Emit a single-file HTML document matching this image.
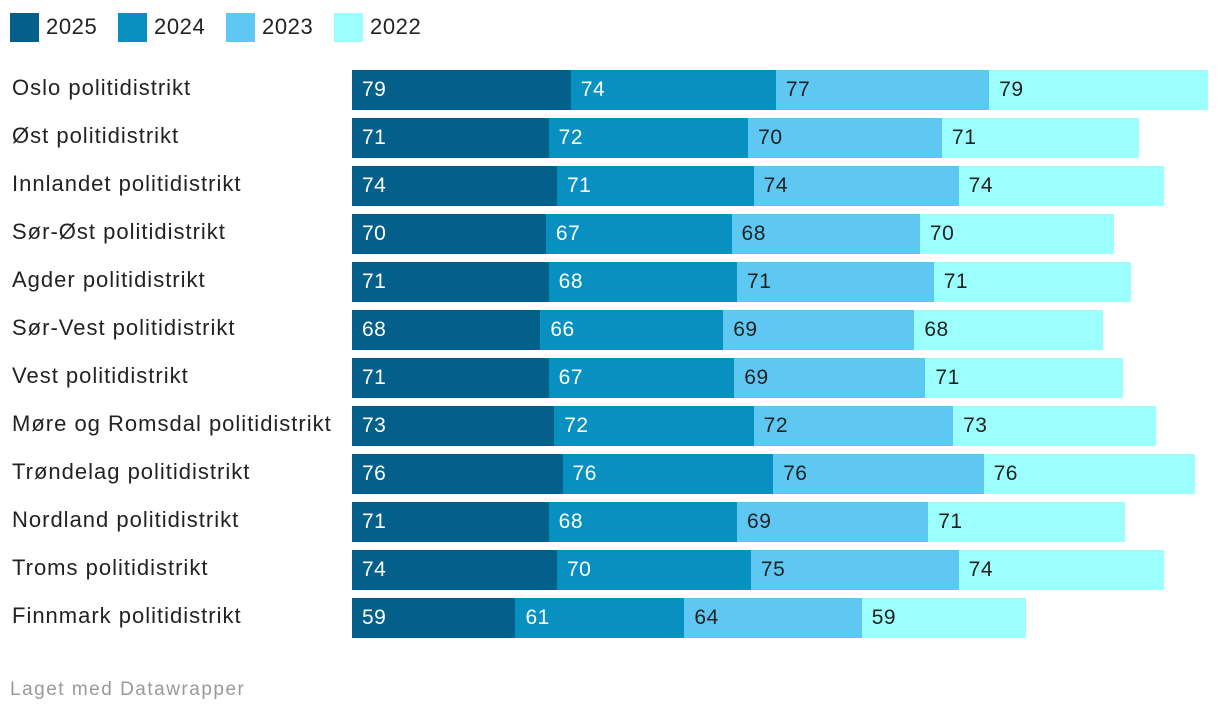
<!DOCTYPE html>
<html><head><meta charset="utf-8"><style>
body{margin:0;width:1220px;height:714px;background:#fff;font-family:"Liberation Sans",sans-serif;position:relative;overflow:hidden}
.lg{position:absolute;top:12px;height:30px;display:flex;align-items:center;font-size:22px;color:#222;letter-spacing:0.6px}
.lg span{display:inline-block;width:29px;height:29px;margin-right:7px}
.lab{position:absolute;left:12px;font-size:22px;color:#222;line-height:40px;letter-spacing:1px}
.seg{position:absolute;height:40px;line-height:40px;font-size:21px;box-sizing:border-box;padding-left:10px;letter-spacing:0.5px}
.foot{position:absolute;left:10px;top:679px;font-size:19px;color:#999;letter-spacing:1.5px}
</style></head><body>
<div id="legend"></div>
<div id="chart"></div>
<div class="foot">Laget med Datawrapper</div>
<script>
const categories=["Oslo politidistrikt","Øst politidistrikt","Innlandet politidistrikt","Sør-Øst politidistrikt","Agder politidistrikt","Sør-Vest politidistrikt","Vest politidistrikt","Møre og Romsdal politidistrikt","Trøndelag politidistrikt","Nordland politidistrikt","Troms politidistrikt","Finnmark politidistrikt"];
const seriesNames=["2025","2024","2023","2022"];
const v2025=[79,71,74,70,71,68,71,73,76,71,74,59];
const v2024=[74,72,71,67,68,66,67,72,76,68,70,61];
const v2023=[77,70,74,68,71,69,69,72,76,69,75,64];
const v2022=[79,71,74,70,71,68,71,73,76,71,74,59];
const colors=["#045f8a","#0891c0","#5ec8f2","#9dfffd"];
const textColors=["#fff","#fff","#222","#222"];
const series=[v2025,v2024,v2023,v2022];
const x0=352,scale=856/309;
const xs=v=>v*scale;
const lg=document.getElementById('legend');
const lgX=[10,118,226,334];
seriesNames.forEach((n,i)=>{
 const d=document.createElement('div');d.className='lg';d.style.left=lgX[i]+'px';
 
 
 d.innerHTML='<span style="background:'+colors[i]+'"></span>'+n;lg.appendChild(d);
});
const ch=document.getElementById('chart');
categories.forEach((c,r)=>{
 const top=70+r*48;
 const l=document.createElement('div');l.className='lab';l.style.top=(top-2)+'px';l.textContent=c;
 
 
 ch.appendChild(l);
 let x=x0;
 series.forEach((s,i)=>{
  const w=xs(s[r]);
  const b=document.createElement('div');b.className='seg';
  b.style.cssText+=`left:${x}px;top:${top}px;width:${w+0.5}px;background:${colors[i]};color:${textColors[i]}`;
  b.textContent=s[r];
  
  
  ch.appendChild(b);x+=w;
 });
});
</script>
</body></html>
